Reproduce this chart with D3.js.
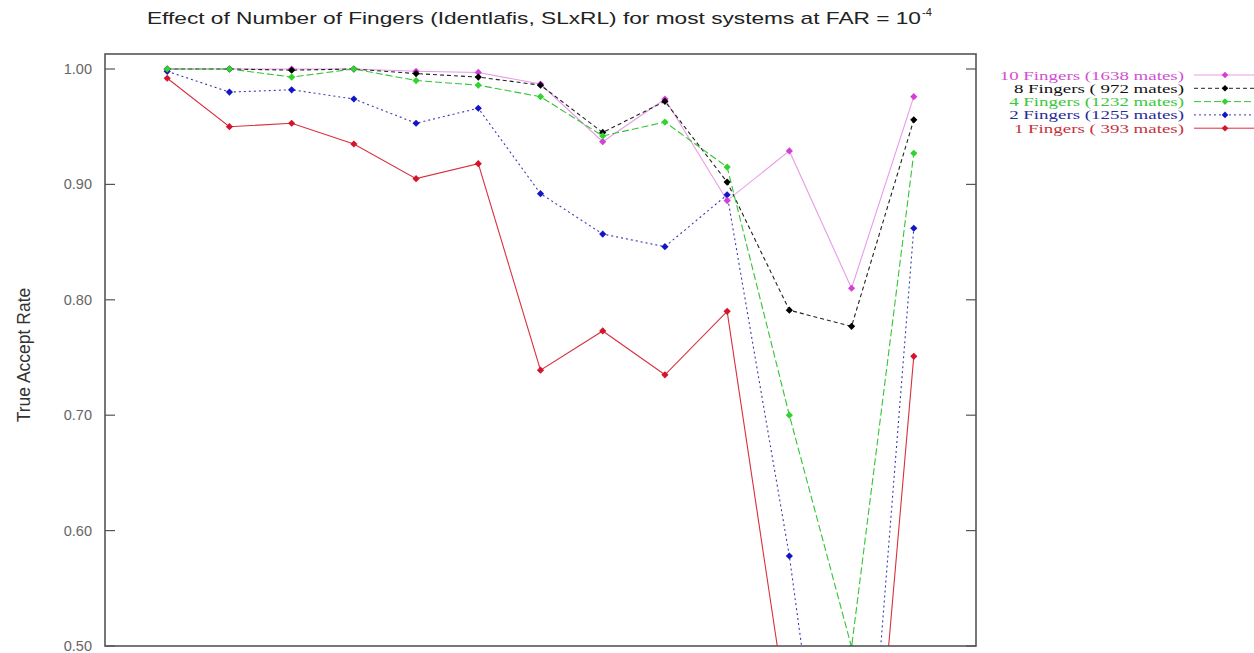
<!DOCTYPE html>
<html>
<head>
<meta charset="utf-8">
<script src="https://cdn.jsdelivr.net/npm/d3@7"></script>
<style>
  body { margin: 0; background: #fff; }
  svg { display: block; }
</style>
</head>
<body>
<svg id="chart" width="1254" height="653"></svg>
<script>
// systems on the x axis (1..13), values are True Accept Rate
const systems = [1, 2, 3, 4, 5, 6, 7, 8, 9, 10, 11, 12, 13];
const yTicks = [0.5, 0.6, 0.7, 0.8, 0.9, 1.0];

const tenFingers   = [1.000, 1.000, 1.000, 1.000, 0.998, 0.997, 0.987, 0.937, 0.974, 0.886, 0.929, 0.810, 0.976];
const eightFingers = [1.000, 1.000, 0.999, 1.000, 0.996, 0.993, 0.986, 0.945, 0.972, 0.902, 0.791, 0.777, 0.956];
const fourFingers  = [1.000, 1.000, 0.993, 1.000, 0.990, 0.986, 0.976, 0.942, 0.954, 0.915, 0.700, 0.499, 0.927];
const twoFingers   = [0.998, 0.980, 0.982, 0.974, 0.953, 0.966, 0.892, 0.857, 0.846, 0.891, 0.578, 0.180, 0.862];
const oneFinger    = [0.992, 0.950, 0.953, 0.935, 0.905, 0.918, 0.739, 0.773, 0.735, 0.790, 0.430, 0.130, 0.751];

const legendLabels = ["10 Fingers (1638 mates)", "8 Fingers ( 972 mates)", "4 Fingers (1232 mates)",
                      "2 Fingers (1255 mates)", "1 Fingers ( 393 mates)"];

// legend order (top to bottom)
const series = [
  { label: legendLabels[0], values: tenFingers,   color: "#d63fd6", dash: null,  line: "#e89be8", text: "#d24fd2" },
  { label: legendLabels[1], values: eightFingers, color: "#000000", dash: "4,3", line: "#222",    text: "#111" },
  { label: legendLabels[2], values: fourFingers,  color: "#2fd42f", dash: "7,3", line: "#35c435", text: "#3cc83c" },
  { label: legendLabels[3], values: twoFingers,   color: "#1515c8", dash: "2,3", line: "#3a3ab0", text: "#2a2a9a" },
  { label: legendLabels[4], values: oneFinger,    color: "#d4142a", dash: null,  line: "#d8303e", text: "#c8303a" }
];

const svg = d3.select("#chart");
const plotLeft = 105, plotRight = 976, plotTop = 54, plotBottom = 646;

const x = d3.scaleLinear().domain([0, 14]).range([plotLeft, plotRight]);
const y = d3.scaleLinear().domain([0.5, 0.5 + (plotBottom - plotTop) / 1154]).range([plotBottom, plotTop]);

svg.append("defs").append("clipPath").attr("id", "plotclip")
  .append("rect").attr("x", plotLeft).attr("y", plotTop)
  .attr("width", plotRight - plotLeft).attr("height", plotBottom - plotTop);

// title
const title = svg.append("text")
  .attr("x", 147).attr("y", 24)
  .attr("font-family", "Liberation Sans, Arial, sans-serif")
  .attr("font-size", 17)
  .attr("fill", "#222");
title.append("tspan").text("Effect of Number of Fingers (Identlafis, SLxRL) for most systems at FAR = 10")
  .attr("textLength", 774).attr("lengthAdjust", "spacingAndGlyphs");
title.append("tspan").text("-4").attr("font-size", 11).attr("dy", -8).attr("dx", 1);

// y axis label
svg.append("text")
  .attr("transform", "translate(30,355) rotate(-90)")
  .attr("text-anchor", "middle")
  .attr("font-family", "Liberation Sans, Arial, sans-serif")
  .attr("font-size", 17.5)
  .attr("fill", "#333")
  .text("True Accept Rate");

// y ticks, inward on both sides
const tickG = svg.append("g");
yTicks.forEach(t => {
  tickG.append("line").attr("x1", plotLeft).attr("x2", plotLeft + 10).attr("y1", y(t)).attr("y2", y(t))
    .attr("stroke", "#555").attr("stroke-width", 1.2);
  tickG.append("line").attr("x1", plotRight - 10).attr("x2", plotRight).attr("y1", y(t)).attr("y2", y(t))
    .attr("stroke", "#555").attr("stroke-width", 1.2);
  tickG.append("text").attr("x", 92).attr("y", y(t) + 5)
    .attr("text-anchor", "end")
    .attr("font-family", "Liberation Sans, Arial, sans-serif")
    .attr("font-size", 14.5).attr("fill", "#666")
    .text(d3.format(".2f")(t));
});

// data lines
const plot = svg.append("g").attr("clip-path", "url(#plotclip)");
const lineGen = d3.line().x((d, i) => x(systems[i])).y(d => y(d));
const marker = d3.symbol(d3.symbolSquare, 26);

const drawOrder = [4, 3, 0, 1, 2];
drawOrder.forEach(k => {
  const s = series[k];
  plot.append("path")
    .attr("d", lineGen(s.values))
    .attr("fill", "none")
    .attr("stroke", s.line)
    .attr("stroke-width", 1.1)
    .attr("stroke-dasharray", s.dash);
});
drawOrder.forEach(k => {
  const s = series[k];
  plot.selectAll(null)
    .data(s.values)
    .enter()
    .append("path")
    .attr("d", marker)
    .attr("transform", (d, i) => `translate(${x(systems[i])},${y(d)}) rotate(45)`)
    .attr("fill", s.color);
});

// frame
svg.append("rect")
  .attr("x", plotLeft).attr("y", plotTop)
  .attr("width", plotRight - plotLeft).attr("height", plotBottom - plotTop)
  .attr("fill", "none").attr("stroke", "#555").attr("stroke-width", 1.6);

// legend
const legend = svg.append("g");
series.forEach((s, i) => {
  const ly = 75 + i * 13.3;
  const lbl = legend.append("text")
    .attr("x", 1184).attr("y", ly + 4.5)
    .attr("text-anchor", "end")
    .attr("font-family", "Liberation Serif, Times New Roman, serif")
    .attr("font-size", 13.5)
    .attr("fill", s.text)
    .text(s.label);
  // the legend glyphs are drawn wide in the reference
  const w = lbl.node().getComputedTextLength();
  lbl.attr("textLength", w * 1.4).attr("lengthAdjust", "spacingAndGlyphs");
  legend.append("line")
    .attr("x1", 1194).attr("x2", 1256).attr("y1", ly).attr("y2", ly)
    .attr("stroke", s.line).attr("stroke-width", 1)
    .attr("stroke-dasharray", s.dash);
  legend.append("path")
    .attr("d", d3.symbol(d3.symbolSquare, 22))
    .attr("transform", `translate(1225,${ly}) rotate(45)`)
    .attr("fill", s.color);
});
</script>
</body>
</html>
